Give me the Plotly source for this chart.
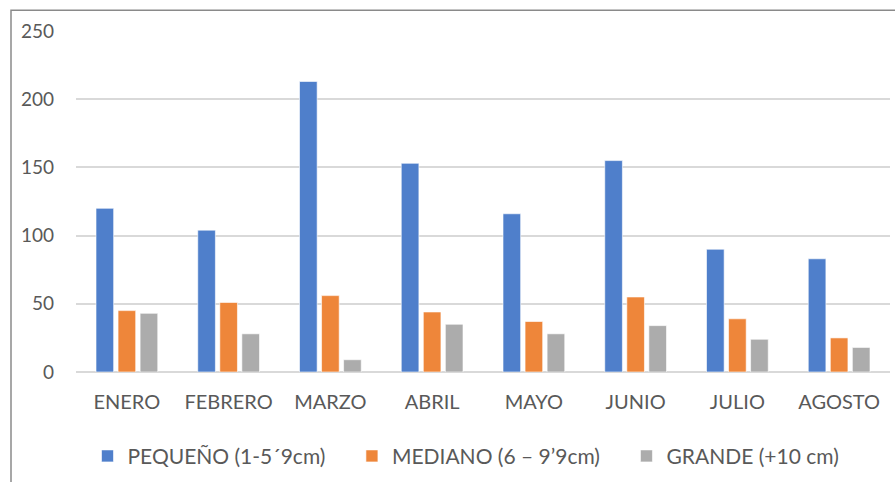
import plotly.graph_objects as go

meses = ["ENERO", "FEBRERO", "MARZO", "ABRIL", "MAYO", "JUNIO", "JULIO", "AGOSTO"]
pequeno = [120, 104, 213, 153, 116, 155, 90, 83]
mediano = [45, 51, 56, 44, 37, 55, 39, 25]
grande = [43, 28, 9, 35, 28, 34, 24, 18]
y_ticks = [0, 50, 100, 150, 200, 250]

pad = "\u00a0" * 4  # extra room between legend entries, as in the original
series = [
    ("PEQUEÑO (1-5´9cm)" + pad, pequeno, "#4F7FCB"),
    ("MEDIANO (6 – 9’9cm)" + pad, mediano, "#EE863A"),
    ("GRANDE (+10 cm)", grande, "#ACACAC"),
]

fig = go.Figure()
for name, values, color in series:
    fig.add_trace(
        go.Bar(
            x=meses,
            y=values,
            name=name,
            marker=dict(color=color, line=dict(color="rgba(255,255,255,0.6)", width=1)),
        )
    )

# outer chart border (Excel-style frame, cut off on the right and bottom)
fig.add_shape(
    type="rect",
    xref="paper", yref="paper",
    x0=(11 - 76) / 814, x1=1.2,
    y0=-0.5, y1=(375 - 10) / 344,
    line=dict(color="#8A8A8A", width=1.5),
    fillcolor="rgba(0,0,0,0)",
    layer="below",
)

fig.update_layout(
    width=895,
    height=482,
    margin=dict(l=76, r=5, t=31, b=107),
    paper_bgcolor="white",
    plot_bgcolor="white",
    font=dict(family="Lato, Open Sans, sans-serif", size=20, color="#595959"),
    barmode="group",
    bargap=0.35,
    bargroupgap=0.2,
    xaxis=dict(
        showgrid=False, showline=False, ticks="",
        ticklabelstandoff=16, tickfont=dict(size=20),
    ),
    yaxis=dict(
        range=[0, 250],
        tickvals=y_ticks,
        showgrid=True,
        gridcolor="#D9D9D9",
        gridwidth=1.5,
        zeroline=True,
        zerolinecolor="#D9D9D9",
        zerolinewidth=1.5,
        ticks="",
        ticklabelstandoff=21,
        tickfont=dict(size=19),
    ),
    legend=dict(
        orientation="h",
        x=(466 - 76) / 814,
        xanchor="center",
        y=(375 - 460) / 344,
        yanchor="middle",
        font=dict(size=21),
        itemwidth=30,
        traceorder="normal",
    ),
    showlegend=True,
)

fig.write_html(
    "out.html",
    config={"displayModeBar": False},
    post_script="document.body.style.margin='0px';",
)
